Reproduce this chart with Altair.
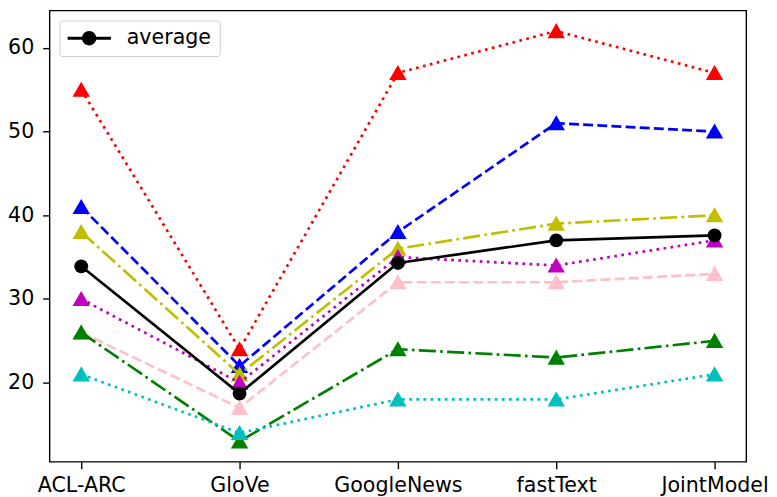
import json
import altair as alt
import pandas as pd

categories = ["ACL-ARC", "GloVe", "GoogleNews", "fastText", "JointModel"]
red_vals = [55, 24, 57, 62, 57]
blue_vals = [41, 22, 38, 51, 50]
yellow_vals = [38, 21, 36, 39, 40]
magenta_vals = [30, 20, 35, 34, 37]
pink_vals = [26, 17, 32, 32, 33]
green_vals = [26, 13, 24, 23, 25]
cyan_vals = [21, 14, 18, 18, 21]
average_vals = [33.9, 18.7, 34.3, 37.0, 37.6]

DOT = [2.7, 4.5]
DASH = [10, 4.3]
DASHDOT = [17.3, 4.3, 2.7, 4.3]

series = [
    ("red", red_vals, "#ff0000", DOT),
    ("blue", blue_vals, "#0000ff", DASH),
    ("yellow", yellow_vals, "#bfbf00", DASHDOT),
    ("magenta", magenta_vals, "#bf00bf", DOT),
    ("pink", pink_vals, "#ffc0cb", DASH),
    ("green", green_vals, "#008000", DASHDOT),
    ("cyan", cyan_vals, "#00bfbf", DOT),
]

rows = []
for name, vals, _, _ in series + [("average", average_vals, "black", None)]:
    for i, v in enumerate(vals):
        rows.append({"series": name, "x": i, "y": v})
df = pd.DataFrame(rows)

label_expr = json.dumps(categories) + "[datum.value]"
FS = 20.8

x_enc = alt.X(
    "x:Q",
    scale=alt.Scale(domain=[-0.2, 4.2], nice=False, zero=False),
    axis=alt.Axis(values=[0, 1, 2, 3, 4], labelExpr=label_expr, title=None,
                  grid=False, domain=False, tickSize=7, labelPadding=7),
)
y_enc = alt.Y(
    "y:Q",
    scale=alt.Scale(domain=[10.55, 64.45], nice=False, zero=False),
    axis=alt.Axis(values=[20, 30, 40, 50, 60], title=None, grid=False,
                  domain=False, tickSize=7, labelPadding=9),
)

base = alt.Chart(df)
layers = []
for name, vals, color, dash in series:
    d = base.transform_filter(alt.datum.series == name)
    layers.append(
        d.mark_line(color=color, strokeWidth=2.7, strokeDash=dash, strokeCap="butt")
        .encode(x=x_enc, y=y_enc)
    )
    layers.append(
        d.mark_point(shape="triangle-up", filled=True, size=210, opacity=1,
                     color=color, stroke=color, strokeWidth=1.8, strokeJoin="miter")
        .encode(x=x_enc, y=y_enc)
    )

avg = base.transform_filter(alt.datum.series == "average")
layers.append(
    avg.mark_line(color="black", strokeWidth=2.7).encode(x=x_enc, y=y_enc)
)
legend_path = ("M-1,-0.068L1,-0.068L1,0.068L-1,0.068Z"
               "M0.33,0A0.33,0.33,0,1,1,-0.33,0A0.33,0.33,0,1,1,0.33,0Z")
layers.append(
    avg.mark_point(shape="circle", filled=True, size=196, opacity=1)
    .encode(
        x=x_enc,
        y=y_enc,
        color=alt.Color(
            "series:N",
            scale=alt.Scale(domain=["average"], range=["black"]),
            legend=alt.Legend(
                title=None,
                orient="top-left",
                offset=10,
                padding=8,
                fillColor="white",
                strokeColor="#cccccc",
                cornerRadius=3,
                symbolType=legend_path,
                symbolSize=1936,
                symbolStrokeWidth=0,
                clipHeight=20,
                labelFontSize=FS,
                labelFont="DejaVu Sans",
                labelColor="black",
                labelOffset=16,
            ),
        ),
    )
)

chart = (
    alt.layer(*layers)
    .properties(
        width=704,
        height=456,
        autosize=alt.AutoSizeParams(type="none"),
        padding={"left": 42, "top": 0, "right": 23, "bottom": 33},
        background="white",
    )
    .configure_view(stroke="black", strokeWidth=1.4)
    .configure_axis(
        labelFont="DejaVu Sans",
        labelFontSize=FS,
        labelColor="black",
        tickColor="black",
        tickWidth=1.4,
    )
)

chart.save("out.html", embed_options={"renderer": "svg", "actions": False})
